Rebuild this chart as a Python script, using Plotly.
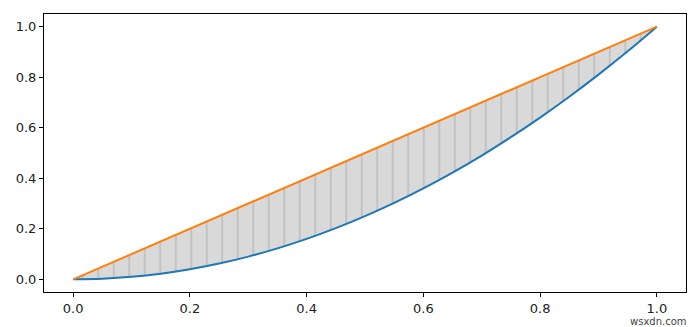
import plotly.graph_objects as go

# data
x_vals = [0.0, 0.05, 0.1, 0.15, 0.2, 0.25, 0.3, 0.35, 0.4, 0.45, 0.5,
          0.55, 0.6, 0.65, 0.7, 0.75, 0.8, 0.85, 0.9, 0.95, 1.0]
blue_vals = [0.0, 0.0025, 0.01, 0.0225, 0.04, 0.0625, 0.09, 0.1225, 0.16, 0.2025, 0.25,
             0.3025, 0.36, 0.4225, 0.49, 0.5625, 0.64, 0.7225, 0.81, 0.9025, 1.0]
orange_vals = [0.0, 0.05, 0.1, 0.15, 0.2, 0.25, 0.3, 0.35, 0.4, 0.45, 0.5,
               0.55, 0.6, 0.65, 0.7, 0.75, 0.8, 0.85, 0.9, 0.95, 1.0]
x_ticks = [0.0, 0.2, 0.4, 0.6, 0.8, 1.0]
y_ticks = [0.0, 0.2, 0.4, 0.6, 0.8, 1.0]

fig = go.Figure()
# fill base
fig.add_trace(go.Scatter(x=x_vals, y=blue_vals, mode="lines", line=dict(width=0, shape="spline"),
                         showlegend=False, hoverinfo="skip"))
fig.add_trace(go.Scatter(x=x_vals, y=orange_vals, mode="lines", line=dict(width=0),
                         fill="tonexty", fillcolor="#d9d9d9",
                         fillpattern=dict(shape="|", size=15.5, solidity=0.08,
                                          fgcolor="#b5b5b5", bgcolor="#d9d9d9", fillmode="replace"),
                         showlegend=False, hoverinfo="skip"))
fig.add_trace(go.Scatter(x=x_vals, y=blue_vals, mode="lines",
                         line=dict(color="#1f77b4", width=2, shape="spline"), showlegend=False))
fig.add_trace(go.Scatter(x=x_vals, y=orange_vals, mode="lines",
                         line=dict(color="#ff7f0e", width=2), showlegend=False))

axis_common = dict(showgrid=False, zeroline=False, showline=True, linecolor="black", linewidth=1,
                   mirror=True, ticks="outside", ticklen=4, tickwidth=1, tickcolor="black",
                   tickfont=dict(family="DejaVu Sans", size=13, color="#222222"), tickformat=".1f")
fig.update_xaxes(range=[-0.05, 1.05], tickvals=x_ticks, **axis_common)
fig.update_yaxes(range=[-0.05, 1.05], tickvals=y_ticks, **axis_common)

fig.add_annotation(text="wsxdn.com", xref="paper", yref="paper", x=1.004, y=-0.105,
                   xanchor="right", yanchor="middle", showarrow=False,
                   font=dict(family="DejaVu Sans", size=10, color="#444444"))

fig.update_layout(width=700, height=327, margin=dict(l=44, r=14, t=14, b=35),
                  paper_bgcolor="white", plot_bgcolor="white")
fig.write_html("out.html")
